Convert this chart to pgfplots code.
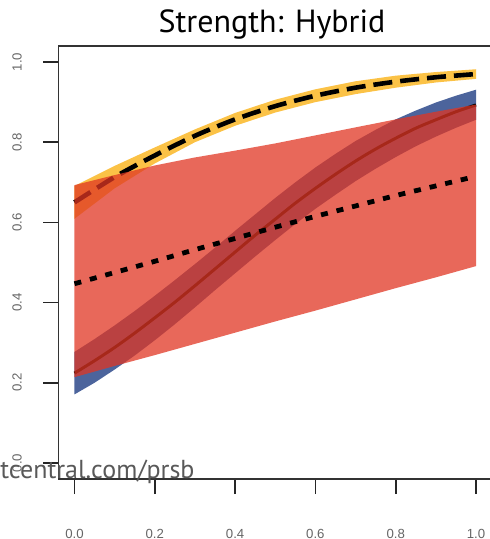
\documentclass[border=0pt]{standalone}
\usepackage{fontspec}
\setmainfont{Liberation Sans}
\newfontfamily\titlefont{PT Sans}
\usepackage{pgfplots}
\pgfplotsset{compat=1.18}
\definecolor{yel}{RGB}{251,194,70}
\definecolor{blu}{RGB}{76,100,156}
\definecolor{redb}{RGB}{224,54,35}
\begin{document}
\begin{tikzpicture}
\useasboundingbox (0,0) rectangle (245pt,269.5pt);
\begin{axis}[
  at={(29.2pt,30pt)}, anchor=south west, scale only axis,
  width=216.85pt, height=216.5pt,
  xmin=-0.04, xmax=1.04, ymin=-0.04, ymax=1.04,
  xtick={0,0.2,0.4,0.6,0.8,1}, ytick={0,0.2,0.4,0.6,0.8,1},
  xticklabels={0.0,0.2,0.4,0.6,0.8,1.0},
  yticklabels={0.0,0.2,0.4,0.6,0.8,1.0},
  tick pos=left, tick align=outside, major tick length=7.5pt,
  tick style={line width=0.9pt, black!85},
  axis line style={line width=0.7pt, black!80},
  ticklabel style={font=\fontsize{6.6}{7.5}\selectfont, text=black!60},
  xticklabel style={anchor=center}, xticklabel shift=20pt,
  yticklabel style={rotate=90, anchor=center}, yticklabel shift=13.2pt,
]
% yellow band (CI of dashed curve)
\addplot[fill=yel, draw=none] coordinates {
 (0,0.691)(0.1,0.741)(0.2,0.787)(0.3,0.832)(0.4,0.873)(0.5,0.906)(0.6,0.932)(0.7,0.952)(0.8,0.966)(0.9,0.975)(1,0.982)
 (1,0.958)(0.9,0.949)(0.8,0.936)(0.7,0.920)(0.6,0.900)(0.5,0.874)(0.4,0.841)(0.3,0.800)(0.2,0.747)(0.1,0.685)(0,0.609)
} -- cycle;
% blue band (CI of solid curve)
\addplot[fill=blu, draw=none] coordinates {
 (0,0.277)(0.05,0.309)(0.1,0.343)(0.15,0.379)(0.2,0.417)(0.25,0.456)(0.3,0.496)(0.35,0.537)(0.4,0.579)(0.45,0.620)(0.5,0.661)
 (0.55,0.700)(0.6,0.737)(0.65,0.771)(0.7,0.803)(0.75,0.831)(0.8,0.857)(0.85,0.879)(0.9,0.899)(0.95,0.916)(1,0.931)
 (1,0.856)(0.95,0.836)(0.9,0.814)(0.85,0.790)(0.8,0.763)(0.75,0.734)(0.7,0.703)(0.65,0.669)(0.6,0.634)(0.55,0.596)
 (0.5,0.556)(0.45,0.515)(0.4,0.473)(0.35,0.431)(0.3,0.388)(0.25,0.346)(0.2,0.306)(0.15,0.268)(0.1,0.233)(0.05,0.200)(0,0.171)
} -- cycle;
% dashed curve
\addplot[black, line width=2.3pt, dash pattern=on 9.5pt off 4pt, smooth] coordinates {
 (0,0.650)(0.1,0.713)(0.2,0.767)(0.3,0.816)(0.4,0.857)(0.5,0.890)(0.6,0.916)(0.7,0.936)(0.8,0.951)(0.9,0.962)(1,0.970)
};
% solid curve
\addplot[black, line width=1.5pt, smooth] coordinates {
 (0,0.224)(0.05,0.255)(0.1,0.288)(0.15,0.324)(0.2,0.362)(0.25,0.401)(0.3,0.442)(0.35,0.484)(0.4,0.526)(0.45,0.568)(0.5,0.608)
 (0.55,0.648)(0.6,0.685)(0.65,0.720)(0.7,0.753)(0.75,0.783)(0.8,0.810)(0.85,0.835)(0.9,0.856)(0.95,0.876)(1,0.893)
};
% red band (CI of dotted curve), translucent
\addplot[fill=redb, fill opacity=0.75, draw=none] coordinates {
 (0,0.693)(0.1,0.718)(0.2,0.742)(0.3,0.762)(0.4,0.779)(0.5,0.797)(0.6,0.817)(0.7,0.837)(0.8,0.857)(0.9,0.876)(1,0.894)
 (1,0.491)(0.9,0.463)(0.8,0.436)(0.7,0.408)(0.6,0.380)(0.5,0.353)(0.4,0.325)(0.3,0.297)(0.2,0.269)(0.1,0.242)(0,0.214)
} -- cycle;
% dotted curve
\addplot[black, line width=2.4pt, dash pattern=on 3.5pt off 4.5pt, smooth] coordinates {
 (0,0.447)(0.1,0.475)(0.2,0.503)(0.3,0.532)(0.4,0.560)(0.5,0.588)(0.6,0.615)(0.7,0.641)(0.8,0.667)(0.9,0.691)(1,0.715)
};
\end{axis}
\node[font=\titlefont\fontsize{16}{19}\selectfont, anchor=base] at (136pt,253pt) {Strength: Hybrid};
\node[font=\titlefont\fontsize{13}{16}\selectfont, text=black!65, anchor=base west, inner sep=0pt] at (0pt,30pt) {tcentral.com/prsb};
\end{tikzpicture}
\end{document}
